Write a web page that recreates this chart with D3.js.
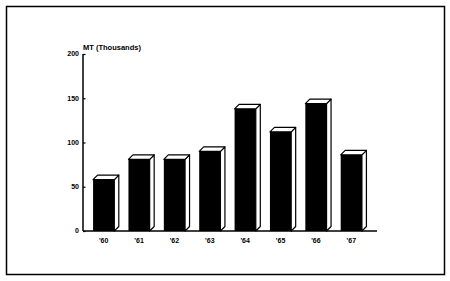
<!DOCTYPE html>
<html>
<head>
<meta charset="utf-8">
<script src="https://cdn.jsdelivr.net/npm/d3@7"></script>
<style>
  body { margin: 0; background: #fff; }
  text { font-family: 'Liberation Sans', Arial, sans-serif; font-weight: bold; fill: #000; }
</style>
</head>
<body>
<div id="chart"></div>
<script>
var years = ["'60", "'61", "'62", "'63", "'64", "'65", "'66", "'67"]
var values = [58, 81, 81, 90, 138, 112, 144, 86]
var yTicks = [0, 50, 100, 150, 200]

var width = 450
var height = 281
var depth = 4.5

var svg = d3.select('#chart')
  .append('svg')
  .attr('width', width)
  .attr('height', height)

// frame
svg.append('rect')
  .attr('x', 6.5)
  .attr('y', 6.5)
  .attr('width', 438)
  .attr('height', 268)
  .attr('fill', 'none')
  .attr('stroke', '#000')
  .attr('stroke-width', 1.5)

var x = d3.scaleBand()
  .domain(years)
  .range([86, 369])
  .paddingInner(0.4)
  .paddingOuter(0.2)

var y = d3.scaleLinear()
  .domain([0, 200])
  .range([231, 54])

var g = svg.append('g')

var bars = g.selectAll('.bar')
  .data(values)
  .enter()
  .append('g')
  .attr('class', 'bar')

// side face
bars.append('path')
  .attr('d', function (d, i) {
    var x1 = x(years[i]) + x.bandwidth()
    var top = y(d)
    return 'M' + x1 + ',' + top +
      'L' + (x1 + depth) + ',' + (top - depth) +
      'L' + (x1 + depth) + ',' + (y(0) - depth) +
      'L' + x1 + ',' + y(0) + 'Z'
  })
  .attr('fill', '#fff')
  .attr('stroke', '#000')
  .attr('stroke-width', 1.2)
  .attr('stroke-linejoin', 'round')

// top face
bars.append('path')
  .attr('d', function (d, i) {
    var x0 = x(years[i])
    var x1 = x0 + x.bandwidth()
    var top = y(d)
    return 'M' + x0 + ',' + top +
      'L' + (x0 + depth) + ',' + (top - depth) +
      'L' + (x1 + depth) + ',' + (top - depth) +
      'L' + x1 + ',' + top + 'Z'
  })
  .attr('fill', '#fff')
  .attr('stroke', '#000')
  .attr('stroke-width', 1.2)
  .attr('stroke-linejoin', 'round')

// front face
bars.append('rect')
  .attr('x', function (d, i) { return x(years[i]) })
  .attr('y', function (d) { return y(d) })
  .attr('width', x.bandwidth())
  .attr('height', function (d) { return y(0) - y(d) })
  .attr('fill', '#000')

// axes
var yAxis = d3.axisRight(y)
  .tickValues(yTicks)
  .tickSize(2.5)
  .tickFormat('')
var ya = svg.append('g')
  .attr('transform', 'translate(83,0)')
  .call(yAxis)
ya.select('.domain').remove()
ya.selectAll('line').attr('stroke', '#000').attr('stroke-width', 1.2)

svg.append('line')
  .attr('x1', 83).attr('x2', 83)
  .attr('y1', y(200)).attr('y2', y(0))
  .attr('stroke', '#000')
  .attr('stroke-width', 1.5)

svg.append('line')
  .attr('x1', 83).attr('x2', 377)
  .attr('y1', y(0)).attr('y2', y(0))
  .attr('stroke', '#000')
  .attr('stroke-width', 1.5)

svg.selectAll('.ylab')
  .data(yTicks)
  .enter()
  .append('text')
  .attr('class', 'ylab')
  .attr('x', 79)
  .attr('y', function (d) { return y(d) })
  .attr('dy', '.35em')
  .attr('text-anchor', 'end')
  .style('font-size', '7px')
  .text(function (d) { return d })

svg.selectAll('.xlab')
  .data(years)
  .enter()
  .append('text')
  .attr('class', 'xlab')
  .attr('x', function (d) { return x(d) + x.bandwidth() / 2 })
  .attr('y', 242.5)
  .attr('text-anchor', 'middle')
  .style('font-size', '7px')
  .text(function (d) { return d })

svg.append('text')
  .attr('x', 83)
  .attr('y', 49.5)
  .style('font-size', '7.5px')
  .text('MT (Thousands)')
</script>
</body>
</html>
